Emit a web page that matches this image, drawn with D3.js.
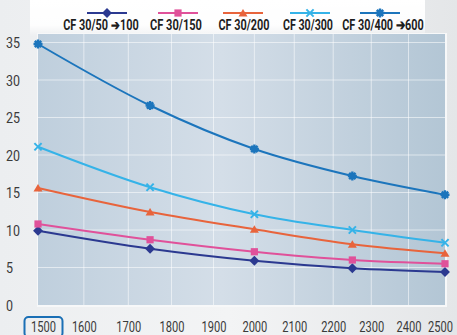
<!DOCTYPE html>
<html><head><meta charset="utf-8">
<script src="https://cdn.jsdelivr.net/npm/d3@7"></script>
<style>
html,body{margin:0;padding:0;background:#f0f1f3;}
svg{display:block;}
</style></head>
<body><svg id="c" width="457" height="335"></svg>
<script>
const rpm = [1500, 1750, 2000, 2250, 2500];
const seriesNames = ["CF 30/50 ➔100", "CF 30/150", "CF 30/200", "CF 30/300", "CF 30/400 ➔600"];
const s1 = [9.9, 7.5, 5.9, 4.9, 4.4];
const s2 = [10.8, 8.7, 7.1, 6.0, 5.5];
const s3 = [15.6, 12.4, 10.1, 8.1, 6.9];
const s4 = [21.1, 15.7, 12.1, 10.0, 8.3];
const s5 = [34.8, 26.6, 20.8, 17.2, 14.7];
const xTicks = [1500,1600,1700,1800,1900,2000,2100,2200,2300,2400,2500];
const yTicks = [0,5,10,15,20,25,30,35];

(function(){
const colors = ["#2b3990", "#e0519a", "#e8643c", "#35b3e8", "#1c75bc"];
const symbols = ["diamond","square","triangle","x","asterisk"];
const seriesVals = [s1,s2,s3,s4,s5];
const FONT = "Roboto, Liberation Sans, sans-serif";

const svg = d3.select("#c");
const W = 457, H = 335;
const x = d3.scaleSqrt().domain([1500,2500]).range([38, 445]);
const y = d3.scaleLinear().domain([0,35]).range([305, 42.5]);

// condense a text node horizontally around anchor point ax
function condense(node, targetW, ax){
  const w = node.getComputedTextLength();
  const k = Math.min(1, targetW / w);
  d3.select(node).attr("transform", `translate(${ax},0) scale(${k},1) translate(${-ax},0)`);
}

const defs = svg.append("defs");
const bg = defs.append("linearGradient").attr("id","pageg").attr("x1",0).attr("x2",1).attr("y1",0).attr("y2",0);
bg.append("stop").attr("offset","0").attr("stop-color","#eceef0");
bg.append("stop").attr("offset","0.5").attr("stop-color","#f3f4f5");
bg.append("stop").attr("offset","1").attr("stop-color","#e4e6e8");
svg.append("rect").attr("width",W).attr("height",H).attr("fill","url(#pageg)");
const tg = defs.append("linearGradient").attr("id","topg").attr("x1",0).attr("x2",0).attr("y1",0).attr("y2",1);
tg.append("stop").attr("offset","0").attr("stop-color","#ffffff").attr("stop-opacity",1);
tg.append("stop").attr("offset","0.7").attr("stop-color","#ffffff").attr("stop-opacity",0.9);
tg.append("stop").attr("offset","1").attr("stop-color","#ffffff").attr("stop-opacity",0);
svg.append("rect").attr("x",30).attr("y",0).attr("width",395).attr("height",36).attr("fill","url(#topg)");

const pg = defs.append("linearGradient").attr("id","plotg").attr("x1",0).attr("x2",1).attr("y1",0).attr("y2",0);
pg.append("stop").attr("offset","0").attr("stop-color","#bfcfdd");
pg.append("stop").attr("offset","0.45").attr("stop-color","#d4dee8");
pg.append("stop").attr("offset","1").attr("stop-color","#b3c6d5");

const x0 = x(1500), x1 = x(2500), yTop = 34, yBot = 305;
svg.append("rect").attr("x",x0-1).attr("y",yTop-1).attr("width",x1-x0+3).attr("height",yBot-yTop+3).attr("fill","#f7f8f9");
svg.append("rect").attr("x",x0).attr("y",yTop).attr("width",x1-x0).attr("height",yBot-yTop).attr("fill","url(#plotg)");

const grid = svg.append("g");
grid.selectAll("line.v").data(xTicks.slice(1,-1)).join("line")
  .attr("x1",d=>x(d)).attr("x2",d=>x(d)).attr("y1",yTop).attr("y2",yBot)
  .attr("stroke","#ffffff").attr("stroke-opacity",0.55).attr("stroke-width",1);
grid.selectAll("line.h").data(yTicks.slice(1)).join("line")
  .attr("x1",x0).attr("x2",x1).attr("y1",d=>y(d)).attr("y2",d=>y(d))
  .attr("stroke","#ffffff").attr("stroke-opacity",0.55).attr("stroke-width",1);

const yAx = svg.append("g").attr("transform",`translate(6,0)`)
  .call(d3.axisLeft(y).tickValues(yTicks).tickSize(0).tickPadding(0));
yAx.select(".domain").remove();
yAx.selectAll("text").attr("font-size",15).attr("fill","#3a3a3a").attr("font-family",FONT)
  .attr("dy","0.35em").attr("text-anchor","start").attr("x",0)
  .each(function(d){ condense(this, d<10?7:14, 0); });

const xAx = svg.append("g").attr("transform",`translate(0,321)`)
  .call(d3.axisBottom(x).tickValues(xTicks).tickFormat(d3.format("d")).tickSize(0).tickPadding(0));
xAx.select(".domain").remove();
xAx.selectAll(".tick").each(function(d){
  const sh = d===1500 ? 5 : (d===2500 ? -5 : 0);
  const t = d3.select(this).select("text").attr("font-size",15).attr("fill","#3a3a3a").attr("font-family",FONT)
    .attr("dy","0.72em").attr("x",sh);
  condense(t.node(), 25, sh);
});
const t1500 = xAx.selectAll(".tick").filter(d=>d===1500).node();
d3.select(t1500).append("rect").attr("x",-14).attr("y",-4).attr("width",38).attr("height",20)
  .attr("rx",4).attr("fill","none").attr("stroke","#1a6fb5").attr("stroke-width",2);

const line = d3.line().x((d,i)=>x(rpm[i])).y(d=>y(d)).curve(d3.curveMonotoneX);
function drawSym(g, type, cx, cy, color, s){
  const t = g.append("g").attr("transform",`translate(${cx},${cy})`);
  if(type==="diamond"){
    const r=s*0.55;
    t.append("path").attr("d",`M0,${-r}L${r},0L0,${r}L${-r},0Z`).attr("fill",color);
  } else if(type==="square"){
    const r=s*0.4;
    t.append("rect").attr("x",-r).attr("y",-r).attr("width",2*r).attr("height",2*r).attr("fill",color);
  } else if(type==="triangle"){
    const r=s*0.5;
    t.append("path").attr("d",`M0,${-r*0.9}L${r},${r*0.75}L${-r},${r*0.75}Z`).attr("fill",color);
  } else if(type==="x"){
    const r=s*0.4;
    t.append("path").attr("d",`M${-r},${-r}L${r},${r}M${-r},${r}L${r},${-r}`).attr("stroke",color).attr("stroke-width",2).attr("fill","none");
  } else {
    const r=s*0.5;
    let d="";
    for(let k=0;k<4;k++){const a=k*Math.PI/4; d+=`M${-r*Math.cos(a)},${-r*Math.sin(a)}L${r*Math.cos(a)},${r*Math.sin(a)}`;}
    t.append("path").attr("d",d).attr("stroke",color).attr("stroke-width",2.4).attr("fill","none");
  }
}
seriesVals.forEach((vals,si)=>{
  const g = svg.append("g");
  g.append("path").datum(vals).attr("d",line).attr("fill","none").attr("stroke",colors[si]).attr("stroke-width",2);
  vals.forEach((v,i)=>drawSym(g, symbols[si], x(rpm[i]), y(v), colors[si], 9));
});

const legX = [107, 178, 243, 310, 380];
const legTextX = [101, 176, 244, 308, 383];
const legW = [76, 52, 51, 50, 82];
const lg = svg.append("g");
seriesNames.forEach((n,i)=>{
  const cx = legX[i];
  lg.append("line").attr("x1",cx-20).attr("x2",cx+20).attr("y1",13).attr("y2",13).attr("stroke",colors[i]).attr("stroke-width",2);
  drawSym(lg, symbols[i], cx, 13, colors[i], 9);
  const t = lg.append("text").attr("x",legTextX[i]).attr("y",30).attr("text-anchor","middle")
    .attr("font-family",FONT).attr("font-weight","bold").attr("font-size",14.5)
    .attr("fill","#1e1e1e").text(n);
  condense(t.node(), legW[i], legTextX[i]);
});
})();
</script></body></html>
